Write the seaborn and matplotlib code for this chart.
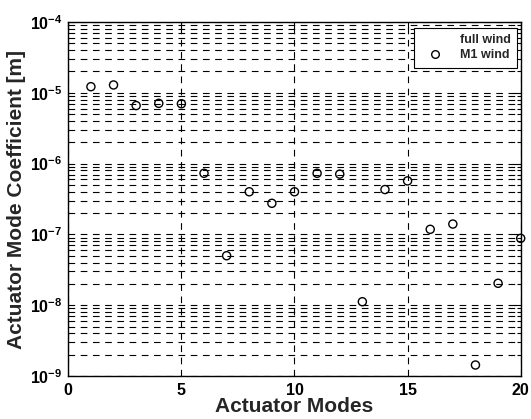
import numpy as np
import pandas as pd
import matplotlib
matplotlib.use("Agg")
import matplotlib.pyplot as plt
from matplotlib.lines import Line2D
from matplotlib.ticker import LogLocator, FixedLocator, FuncFormatter, NullFormatter
import seaborn as sns

# ---- data ----
modes = [1, 2, 3, 4, 5, 6, 7, 8, 9, 10, 11, 12, 13, 14, 15, 16, 17, 18, 19, 20]
m1_wind = [1.22e-5, 1.29e-5, 6.6e-6, 7.1e-6, 7.0e-6, 7.3e-7, 5.0e-8, 4.0e-7, 2.75e-7, 4.0e-7,
           7.3e-7, 7.1e-7, 1.12e-8, 4.3e-7, 5.7e-7, 1.18e-7, 1.40e-7, 1.43e-9, 2.04e-8, 8.8e-8]
x_ticks = [0, 5, 10, 15, 20]
y_exponents = [-9, -8, -7, -6, -5, -4]
legend_labels = ["full wind", "M1 wind"]
x_label = "Actuator Modes"
y_label = "Actuator Mode Coefficient [m]"

df = pd.DataFrame({"mode": modes, "coef": m1_wind})

sns.set_theme(style="white")
plt.rcParams["font.family"] = ["Liberation Sans", "DejaVu Sans"]
plt.rcParams["font.weight"] = "bold"
plt.rcParams["mathtext.fontset"] = "custom"
plt.rcParams["mathtext.rm"] = "Liberation Sans:bold"
plt.rcParams["mathtext.bf"] = "Liberation Sans:bold"
plt.rcParams["mathtext.it"] = "Liberation Sans:bold"

fig = plt.figure(figsize=(5.31, 4.19), dpi=100)
ax = fig.add_axes([0.1286, 0.1026, 0.8520, 0.8449])

sns.scatterplot(data=df, x="mode", y="coef", ax=ax, marker="o", s=34,
                facecolors="none", edgecolor="black", linewidth=1.0, legend=False,
                zorder=3, clip_on=False)

ax.set_yscale("log")
ax.set_xlim(0, 20)
ax.set_ylim(10.0 ** y_exponents[0], 10.0 ** y_exponents[-1])

ax.xaxis.set_major_locator(FixedLocator(x_ticks))
ax.yaxis.set_major_locator(FixedLocator([10.0 ** e for e in y_exponents]))
ax.yaxis.set_minor_locator(LogLocator(base=10, subs=np.arange(2, 10), numticks=20))
ax.yaxis.set_minor_formatter(NullFormatter())
ax.yaxis.set_major_formatter(FuncFormatter(lambda v, p: r"$\mathbf{10^{%d}}$" % int(round(np.log10(v)))))

ax.tick_params(axis="both", which="both", direction="in", top=True, right=True,
               colors="black", labelsize=11.5)
ax.tick_params(axis="both", which="major", length=5, width=0.8)
ax.tick_params(axis="y", which="minor", length=3, width=0.8)
ax.tick_params(axis="x", pad=5)
ax.tick_params(axis="y", pad=4)
for lab in ax.get_xticklabels():
    lab.set_fontweight("bold")

grid_style = dict(color="black", linestyle=(0, (6, 5)), linewidth=0.8)
ax.grid(True, which="major", axis="x", **grid_style)
ax.grid(True, which="both", axis="y", **grid_style)
ax.set_axisbelow(True)

for sp in ax.spines.values():
    sp.set_color("black")
    sp.set_linewidth(1.0)

ax.set_xlabel(x_label, fontsize=15, fontweight="bold", labelpad=-1)
ax.set_ylabel(y_label, fontsize=15, fontweight="bold", labelpad=3)

handles = [Line2D([], [], color="none", linestyle="-"),
           Line2D([], [], marker="o", linestyle="none", markerfacecolor="none",
                  markeredgecolor="black", markersize=5.5, markeredgewidth=1.0)]
leg = ax.legend(handles, legend_labels, loc="upper right", bbox_to_anchor=(0.992, 0.983),
                borderaxespad=0, fontsize=9, frameon=True, fancybox=False,
                edgecolor="black", framealpha=1, handlelength=2.4, borderpad=0.5,
                labelspacing=0.25, handletextpad=0.8)
leg.get_frame().set_linewidth(0.8)
for t in leg.get_texts():
    t.set_fontweight("bold")

fig.savefig("out.png", dpi=100)
